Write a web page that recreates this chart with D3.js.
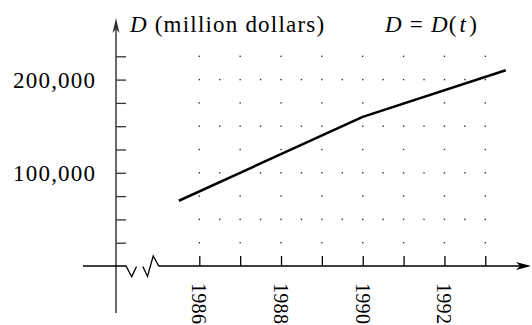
<!DOCTYPE html>
<html><head><meta charset="utf-8">
<script src="https://cdn.jsdelivr.net/npm/d3@7"></script>
<style>html,body{margin:0;padding:0;background:#fff;}svg{display:block;}</style>
</head><body>
<svg id="chart" width="532" height="325"></svg>
<script>
// ---- data ----
const years = [1986, 1987, 1988, 1989, 1990, 1991, 1992, 1993];
const yearLabels = [1986, 1988, 1990, 1992];
const tValues = [1985.5, 1990, 1993.5];
const dValues = [70000, 160000, 210000];
const yTicks = [25000, 50000, 75000, 100000, 125000, 150000, 175000, 200000, 225000];
const yTickLabels = [100000, 200000];
const yLabel = "(million dollars)";

const svg = d3.select("#chart");
const font = "'Liberation Serif', 'Times New Roman', serif";
const LS = 1.2, FS = 23;
const x = d3.scaleLinear().domain([1986, 1993]).range([199.3, 485.3]);
const y = d3.scaleLinear().domain([0, 200000]).range([266, 79.6]);
const x0 = 116, yAxisY = y(0);

// dot grid
const dots = [];
yTicks.forEach(v => {
  const step = (v % 50000 === 0) ? 0.5 : 1;
  for (let t = 1986; t <= 1993 + 1e-9; t += step) dots.push([t, v]);
});
svg.append("g").selectAll("rect").data(dots).enter().append("rect")
  .attr("x", d => x(d[0]) - 0.7).attr("y", d => y(d[1]) - 0.7)
  .attr("width", 1.4).attr("height", 1.4).attr("fill", "#333");

// y axis ticks
const yAx = svg.append("g").attr("transform", `translate(${x0},0)`)
  .call(d3.axisRight(y).tickValues(yTicks).tickSize(10).tickFormat(""));
yAx.select(".domain").remove();
yAx.selectAll("line").attr("stroke", "#333").attr("stroke-width", 1.3);

// x axis ticks
const xAx = svg.append("g").attr("transform", `translate(0,${yAxisY})`)
  .call(d3.axisTop(x).tickValues(years).tickSize(10).tickFormat(""));
xAx.select(".domain").remove();
xAx.selectAll("line").attr("stroke", "#000").attr("stroke-width", 1.3);

// y axis line
svg.append("line").attr("x1", x0).attr("x2", x0).attr("y1", 24).attr("y2", 313)
  .attr("stroke", "#444").attr("stroke-width", 1.6);
// y arrow
svg.append("path")
  .attr("d", `M${x0},18 L${x0+3.5},33 L${x0},29 L${x0-3.5},33 Z`)
  .attr("fill", "#333");

// x axis with break
svg.append("path")
  .attr("d", `M83,${yAxisY} L126,${yAxisY} L131.7,276.7 L136.5,266.5 M142.8,266.5 L147.5,276.5 L153.2,256 L158.8,${yAxisY} L526,${yAxisY}`)
  .attr("fill", "none").attr("stroke", "#000").attr("stroke-width", 1.3);
svg.append("path")
  .attr("d", `M531,${yAxisY} L516,${yAxisY-4} L520,${yAxisY} L516,${yAxisY+4} Z`)
  .attr("fill", "#000");

// data line
svg.append("path").datum(tValues.map((t, i) => [t, dValues[i]]))
  .attr("d", d3.line().x(d => x(d[0])).y(d => y(d[1])))
  .attr("fill", "none").attr("stroke", "#000").attr("stroke-width", 2.5)
  .attr("stroke-linejoin", "round");

// y labels
svg.append("g").selectAll("text").data(yTickLabels).enter().append("text")
  .attr("x", 95 + LS).attr("y", d => y(d)).attr("dy", "0.35em")
  .attr("text-anchor", "end").attr("font-family", font).attr("font-size", FS)
  .attr("letter-spacing", LS)
  .text(d => d3.format(",")(d));

// x labels (rotated)
svg.append("g").selectAll("text").data(yearLabels).enter().append("text")
  .attr("transform", d => `translate(${x(d)},283) rotate(90)`)
  .attr("dy", "0.35em").attr("font-family", font).attr("font-size", 20)
  .attr("letter-spacing", 0.3)
  .text(d => d);

// titles
const t1 = svg.append("text").attr("x", 130).attr("y", 32)
  .attr("font-family", font).attr("font-size", FS).attr("letter-spacing", LS);
t1.append("tspan").attr("font-style", "italic").text("D");
t1.append("tspan").text(" " + yLabel);

const t2 = svg.append("text").attr("x", 385).attr("y", 32)
  .attr("font-family", font).attr("font-size", FS).attr("letter-spacing", LS);
t2.append("tspan").attr("font-style", "italic").text("D");
t2.append("tspan").text(" = ");
t2.append("tspan").attr("font-style", "italic").text("D");
t2.append("tspan").text("(");
t2.append("tspan").attr("font-style", "italic").attr("dx", 2).text("t");
t2.append("tspan").attr("dx", 2).text(")");
</script>
</body></html>
